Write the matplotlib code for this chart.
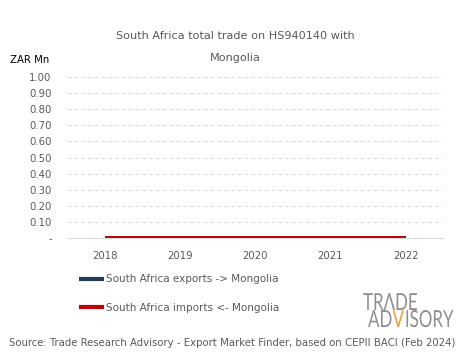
import matplotlib
matplotlib.use("Agg")
import matplotlib.pyplot as plt
from matplotlib.textpath import TextPath
from matplotlib.patches import PathPatch
from matplotlib.transforms import Affine2D
from matplotlib.font_manager import FontProperties

years = ["2018", "2019", "2020", "2021", "2022"]
exports = [0, 0, 0, 0, 0]
imports = [0, 0, 0, 0, 0]
yticks = [0, 0.1, 0.2, 0.3, 0.4, 0.5, 0.6, 0.7, 0.8, 0.9, 1.0]
ytick_labels = ["-", "0.10", "0.20", "0.30", "0.40", "0.50", "0.60", "0.70", "0.80", "0.90", "1.00"]

grey = "#595959"
plt.rcParams["font.family"] = ["DejaVu Sans"]

fig = plt.figure(figsize=(4.65, 3.59), dpi=100)
ax = fig.add_axes([0.144, 0.337, 0.809, 0.4485])

x = range(len(years))
ax.plot(x, exports, color="#1f3b57", lw=2.8, solid_capstyle="butt", label="South Africa exports -> Mongolia")
ax.plot(x, imports, color="#c00000", lw=2.8, solid_capstyle="butt", label="South Africa imports <- Mongolia")

ax.set_xlim(-0.5, 4.5)
ax.set_ylim(0, 1.0)
ax.set_xticks(list(x))
ax.set_xticklabels(years)
ax.set_yticks(yticks)
ax.set_yticklabels(ytick_labels)
ax.tick_params(length=0, labelsize=7.3, colors=grey)
ax.tick_params(axis="x", pad=9)
ax.tick_params(axis="y", pad=11)
ax.grid(axis="y", color="#d9d9d9", ls=(0, (4, 3)), lw=0.7)
for s in ["top", "right", "left"]:
    ax.spines[s].set_visible(False)
ax.spines["bottom"].set_color("#d9d9d9")
ax.set_axisbelow(True)

fig.text(0.505, 0.9, "South Africa total trade on HS940140 with", ha="center", va="center", fontsize=8.1, color=grey)
fig.text(0.505, 0.838, "Mongolia", ha="center", va="center", fontsize=8.1, color=grey)
fig.text(0.022, 0.833, "ZAR Mn", ha="left", va="center", fontsize=7.3, color="black")

leg = fig.legend(loc="upper left", bbox_to_anchor=(0.15, 0.262), frameon=False, fontsize=7.5,
                 labelcolor=grey, handlelength=2.4, handletextpad=0.15, labelspacing=1.75)
for h in leg.get_lines():
    h.set_linewidth(3)

# logo, drawn as squeezed text paths in pixel coordinates
logo_grey = "#8f8f8f"
prop = FontProperties(family="Lato", weight="normal")
sx = 0.72


def put(s, x0, y0, col):
    path = TextPath((0, 0), s, size=23.5, prop=prop)
    patch = PathPatch(path, transform=Affine2D().scale(sx, 1).translate(x0, y0),
                      facecolor=col, edgecolor="none")
    fig.add_artist(patch)
    return x0 + path.get_extents().x1 * sx


put("TR\u039bDE", 363, 49, logo_grey)
xx = put("AD", 368, 32, logo_grey)
xx = put("V", xx + 1, 32, "#f0a030")
put("ISORY", xx + 1, 32, logo_grey)

fig.text(0.5, 0.045, "Source: Trade Research Advisory - Export Market Finder, based on CEPII BACI (Feb 2024)",
         ha="center", va="center", fontsize=7.3, color=grey)

fig.savefig("out.png", dpi=100)
